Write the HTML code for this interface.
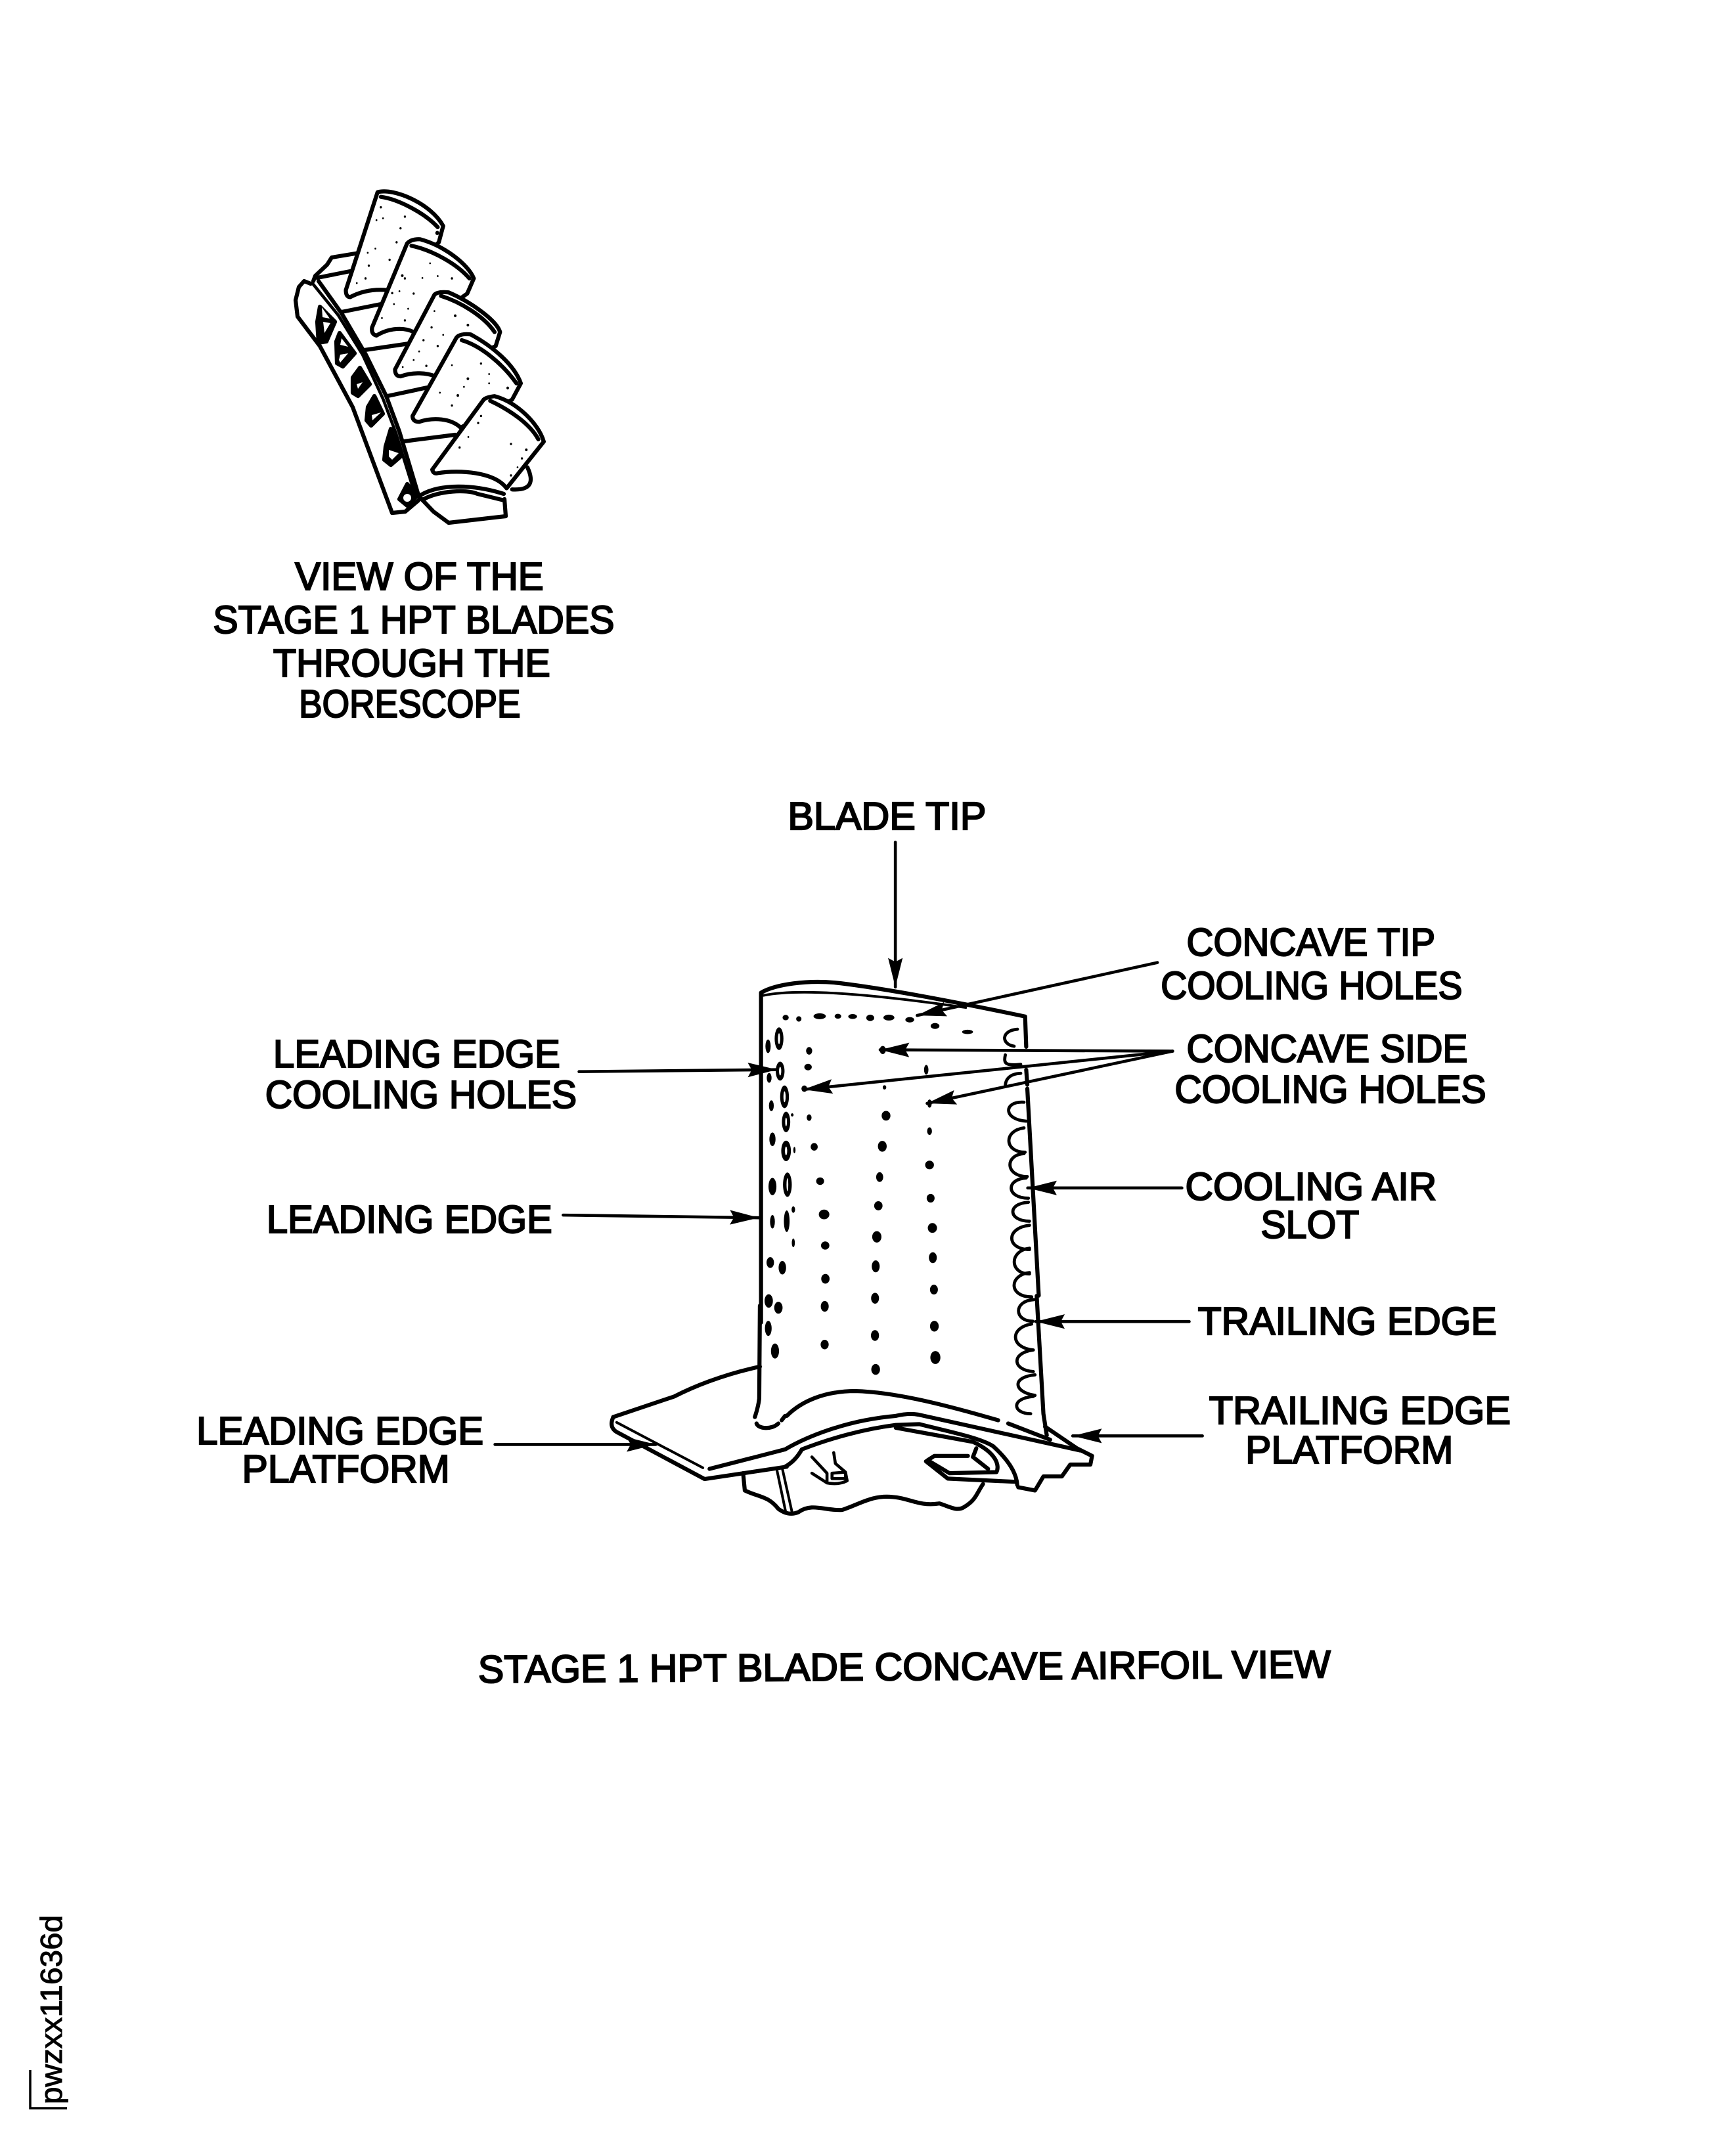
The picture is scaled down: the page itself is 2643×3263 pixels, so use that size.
<!DOCTYPE html>
<html><head><meta charset="utf-8"><title>Stage 1 HPT Blade</title>
<style>
html,body{margin:0;padding:0;background:#fff;}
svg{display:block;}
text{font-family:"Liberation Sans",sans-serif;font-size:59px;fill:#000;stroke:#000;stroke-width:2.2px;}
.l path,.l line{fill:none;stroke:#000;stroke-linecap:round;stroke-linejoin:round;vector-effect:non-scaling-stroke;}
.b path{stroke-width:6.2px;}
.m path{stroke-width:6.2px;}
.w path{fill:#fff;}
.a line{stroke:#000;stroke-width:4.6px;}
</style></head><body>
<svg width="2643" height="3263" viewBox="0 0 2643 3263" xmlns="http://www.w3.org/2000/svg">
<defs><marker id="h" markerUnits="userSpaceOnUse" markerWidth="46" markerHeight="24" refX="44" refY="12" orient="auto"><path d="M0,1 L44,12 L0,23 L6,12 Z" fill="#000"/></marker></defs>
<rect width="2643" height="3263" fill="#fff"/>

<!-- small view: band and root in real coordinates -->
<g class="l b">
<path d="M547,385 L505,392 L498,403 L480,420 L477,428"/>
<path d="M538,412 L483,423"/>
<path d="M473,432 L463,428 L455,437 L450,457 L453,482 L487,527 L537,620 L597,781 L617,779 L637,762"/>
<path d="M485,428 L520,477 L557,540 L588,603 L608,657 L638,757"/>
<path d="M477,433 L515,480 L552,540 L583,607 L603,660 L633,757" style="stroke-width:4.6px"/>
<path d="M520,475 L580,463 M555,533 L623,523 M590,603 L660,588 M615,672 L693,662"/>
<g>
<path d="M487,467 L510,490 L497,520 L485,522 L483,490Z" style="fill:#000"/><path d="M492,490 L503,492 L494,507 Z" style="fill:#fff;stroke-width:0"/><path d="M490,468 L502,485 L491,483 Z" style="fill:#fff;stroke-width:0"/>
<path d="M517,507 L540,538 L522,558 L513,553 L512,520 Z" style="fill:#000"/><path d="M518,540 L530,538 L518,552 L516,548Z" style="fill:#fff;stroke-width:0"/><path d="M520,515 L530,528 L518,525Z" style="fill:#fff;stroke-width:0"/>
<path d="M548,560 L563,585 L545,603 L537,598 L537,575Z" style="fill:#000"/><path d="M543,585 L552,582 L545,592 Z" style="fill:#fff;stroke-width:0"/>
<path d="M570,603 L583,630 L565,648 L558,640 L560,620Z" style="fill:#000"/><path d="M566,632 L580,628 L567,640Z" style="fill:#fff;stroke-width:0"/>
<path d="M595,653 L610,695 L595,708 L585,700 L587,680 Z" style="fill:#000"/><path d="M592,685 L607,690 L597,700 L592,695Z" style="fill:#fff;stroke-width:0"/>
<path d="M620,737 L635,755 L620,770 L608,760Z" style="fill:#000"/><circle cx="620" cy="758" r="6" fill="#fff"/>
</g>
</g>

<g class="l b w" transform="translate(400,250) scale(.333,.355)">
<path d="M525,120 C600,100 770,170 825,265 L805,335 L570,540 C510,535 450,545 400,570 Q380,570 380,540 Z"/>
<path d="M540,140 C620,150 740,210 800,270" style="fill:none"/>
<path d="M660,340 Q680,320 720,322 C830,350 940,430 965,490 L935,555 L690,720 C650,700 580,700 520,735 Q495,730 500,700 Z"/>
<path d="M680,350 C780,370 890,430 945,490" style="fill:none"/>
<path d="M785,560 Q800,545 850,550 C950,590 1070,670 1085,720 L1065,780 L790,910 C750,895 690,890 630,910 Q605,910 605,880 Z"/>
<path d="M815,565 C900,590 1010,650 1060,720" style="fill:none"/>
<path d="M885,745 Q900,725 950,730 C1050,780 1150,860 1180,940 L1140,1010 L905,1130 C860,1090 780,1085 715,1105 Q685,1105 685,1080 Z"/>
<path d="M910,755 C1000,780 1100,860 1160,940" style="fill:none"/>
<path d="M1140,1395 C1230,1400 1240,1360 1210,1300" style="fill:none"/>
<path d="M1010,1010 Q1020,1000 1060,995 C1160,1020 1260,1110 1285,1190 L1115,1390 C1060,1320 900,1310 800,1325 Q780,1330 775,1310 Z"/>
<path d="M1040,1015 C1120,1050 1220,1110 1260,1180" style="fill:none"/>
<g fill="#000"><circle cx="540" cy="185" r="5"/><circle cx="520" cy="240" r="4"/><circle cx="550" cy="232" r="4"/><circle cx="650" cy="225" r="5"/><circle cx="630" cy="275" r="5"/><circle cx="612" cy="335" r="5"/><circle cx="515" cy="362" r="4"/><circle cx="480" cy="380" r="4"/><circle cx="580" cy="410" r="5"/><circle cx="485" cy="435" r="5"/><circle cx="470" cy="490" r="5"/><circle cx="430" cy="510" r="4"/><circle cx="798" cy="295" r="9"/>
<circle cx="765" cy="425" r="4"/><circle cx="638" cy="478" r="6"/><circle cx="650" cy="490" r="5"/><circle cx="730" cy="488" r="4"/><circle cx="800" cy="480" r="4"/><circle cx="865" cy="490" r="5"/><circle cx="592" cy="553" r="5"/><circle cx="690" cy="555" r="5"/><circle cx="625" cy="545" r="4"/><circle cx="600" cy="600" r="4"/><circle cx="665" cy="620" r="4"/><circle cx="650" cy="670" r="5"/><circle cx="545" cy="660" r="4"/>
<circle cx="785" cy="630" r="4"/><circle cx="880" cy="650" r="6"/><circle cx="938" cy="690" r="6"/><circle cx="772" cy="700" r="5"/><circle cx="825" cy="732" r="4"/><circle cx="735" cy="755" r="5"/><circle cx="800" cy="780" r="5"/><circle cx="715" cy="803" r="4"/><circle cx="690" cy="840" r="4"/><circle cx="748" cy="865" r="5"/><circle cx="640" cy="870" r="4"/>
<circle cx="998" cy="855" r="5"/><circle cx="865" cy="862" r="4"/><circle cx="938" cy="920" r="6"/><circle cx="1035" cy="900" r="4"/><circle cx="1120" cy="960" r="6"/><circle cx="920" cy="955" r="4"/><circle cx="1035" cy="940" r="4"/><circle cx="892" cy="992" r="6"/><circle cx="865" cy="1035" r="5"/><circle cx="810" cy="980" r="4"/>
<circle cx="998" cy="1080" r="5"/><circle cx="985" cy="1110" r="5"/><circle cx="940" cy="1170" r="4"/><circle cx="900" cy="1215" r="5"/><circle cx="1135" cy="1200" r="5"/><circle cx="1205" cy="1225" r="6"/><circle cx="1185" cy="1262" r="5"/><circle cx="1165" cy="1300" r="4"/><circle cx="1135" cy="1335" r="5"/></g>
</g>
<g class="l b">
<path d="M640,758 L660,779 L683,796 L770,786 L768,760"/>
<path d="M642,753 C670,737 720,737 767,752"/>
<path d="M645,760 C670,747 710,745 727,752 L768,762"/>
</g>

<g transform="scale(1.0075,1.0066)">
<!-- platform and root -->
<g class="l m" transform="translate(872,1975) scale(.507,.327)">
<path d="M545,282 C430,320 340,380 290,420 L108,515"/>
<path d="M108,515 C95,560 110,580 125,590 L380,802 L625,745"/>
<path d="M118,540 L375,750" style="stroke-width:4px"/>
<path d="M395,755 C480,720 560,690 620,665 C680,610 800,530 950,510 Q990,495 1020,505 L1500,670"/>
<path d="M620,745 Q650,720 670,665 C760,610 860,570 950,552 L1020,548 C1100,580 1200,610 1240,650 C1290,720 1310,780 1312,830"/>
<path d="M950,565 L1180,630 C1250,680 1260,740 1250,770 L1110,775 L1045,715 L1065,695 L1165,695"/>
<path d="M1040,720 L1105,800 L1310,815"/>
<path d="M1190,660 L1180,700 L1225,755"/>
<path d="M1395,560 L1490,660 L1535,695 L1530,735 L1470,735 L1445,790 L1390,790 L1365,855 L1315,840"/>
<path d="M495,775 L500,855 C540,885 570,880 600,940 Q630,975 660,955 C700,910 740,950 790,945 C840,920 880,875 940,885 C990,890 1020,930 1080,915 C1110,930 1130,950 1150,935 C1190,900 1190,870 1210,825"/>
<path d="M595,755 L622,955 M612,755 L640,950" style="stroke-width:4px"/>
<path d="M700,700 L745,775 L745,820 Q780,830 805,810 L800,770 L770,730 L765,680 M700,775 L745,820 M760,775 L800,770 L800,800 L760,800 Z" style="stroke-width:4.6px"/>
<path d="M625,510 C670,440 740,395 830,395 C950,400 1100,460 1255,530 M1285,545 L1410,620 M535,545 C540,570 580,575 600,545 M610,530 L620,510"/>
<path d="M545,0 L543,430 C540,470 535,490 530,515 M1370,-45 L1390,500 L1400,600"/>
<path d="M1355,85 C1290,100 1290,195 1360,205 M1360,205 C1290,220 1300,300 1360,305 M1365,320 C1295,330 1300,400 1365,415 M1360,420 C1290,430 1300,500 1352,500" style="stroke-width:4.8px"/>
<g fill="#000"><ellipse cx="570" cy="105" rx="10" ry="35"/><ellipse cx="590" cy="210" rx="12" ry="35"/><ellipse cx="738" cy="180" rx="12" ry="22"/><ellipse cx="890" cy="295" rx="13" ry="25"/><ellipse cx="888" cy="138" rx="12" ry="25"/><ellipse cx="1065" cy="95" rx="13" ry="25"/><ellipse cx="1068" cy="240" rx="15" ry="30"/></g>
</g>

<!-- blade upper -->
<g class="l m" transform="translate(1071,1428) scale(.332,.409)">
<path d="M238,1400 L238,180 C300,150 450,130 600,145 C800,165 1100,210 1440,268 L1445,380 M1445,465 L1450,520 M1450,535 L1502,1300"/>
<path d="M250,190 C400,165 700,180 1170,235" style="stroke-width:3.8px"/>
<g>
<path d="M1405,315 C1330,320 1330,370 1390,378 M1420,478 C1370,480 1350,500 1350,525 M1350,410 C1340,445 1355,450 1420,445 M1435,585 C1340,580 1340,650 1445,655 M1435,680 C1340,690 1345,770 1440,770 M1435,775 C1345,780 1350,860 1450,860 M1445,865 C1350,870 1355,940 1455,940 M1455,955 C1355,960 1365,1025 1460,1025 M1460,1040 C1350,1050 1355,1130 1460,1130 M1460,1125 C1365,1135 1370,1220 1460,1220 M1460,1215 C1365,1225 1365,1305 1470,1305 M1480,1315 C1385,1320 1390,1395 1475,1395" style="stroke-width:4.8px"/>
</g>
<g fill="#000">
<ellipse cx="350" cy="272" rx="14" ry="10"/><ellipse cx="410" cy="277" rx="12" ry="10"/><ellipse cx="505" cy="267" rx="28" ry="11"/><ellipse cx="588" cy="267" rx="15" ry="9"/><ellipse cx="655" cy="268" rx="20" ry="9"/><ellipse cx="735" cy="273" rx="18" ry="12"/><ellipse cx="820" cy="272" rx="25" ry="11"/><ellipse cx="915" cy="280" rx="20" ry="10"/><ellipse cx="1030" cy="303" rx="20" ry="11"/><ellipse cx="1178" cy="325" rx="25" ry="8"/>
<ellipse cx="320" cy="350" rx="20" ry="42"/><ellipse cx="270" cy="378" rx="12" ry="25"/><ellipse cx="325" cy="470" rx="20" ry="35"/><ellipse cx="275" cy="495" rx="11" ry="18"/><ellipse cx="345" cy="565" rx="20" ry="42"/><ellipse cx="285" cy="598" rx="11" ry="20"/><ellipse cx="352" cy="658" rx="19" ry="38"/><ellipse cx="290" cy="722" rx="14" ry="25"/><ellipse cx="352" cy="765" rx="22" ry="38"/><ellipse cx="290" cy="897" rx="18" ry="32"/><ellipse cx="358" cy="890" rx="20" ry="45"/><ellipse cx="290" cy="1027" rx="11" ry="25"/><ellipse cx="355" cy="1025" rx="13" ry="40"/><ellipse cx="385" cy="982" rx="8" ry="12"/><ellipse cx="385" cy="1105" rx="7" ry="16"/><ellipse cx="280" cy="1178" rx="17" ry="20"/><ellipse cx="335" cy="1197" rx="17" ry="25"/><ellipse cx="273" cy="1320" rx="19" ry="25"/><ellipse cx="317" cy="1345" rx="19" ry="22"/><ellipse cx="380" cy="632" rx="6" ry="6"/><ellipse cx="390" cy="762" rx="5" ry="12"/>
<ellipse cx="457" cy="395" rx="14" ry="14"/><ellipse cx="452" cy="455" rx="17" ry="12"/><ellipse cx="435" cy="535" rx="13" ry="12"/><ellipse cx="457" cy="642" rx="11" ry="12"/><ellipse cx="480" cy="750" rx="16" ry="14"/><ellipse cx="507" cy="877" rx="18" ry="14"/><ellipse cx="525" cy="1000" rx="24" ry="18"/><ellipse cx="530" cy="1115" rx="19" ry="15"/><ellipse cx="531" cy="1238" rx="19" ry="18"/><ellipse cx="528" cy="1340" rx="18" ry="20"/>
<ellipse cx="792" cy="392" rx="14" ry="15"/><ellipse cx="990" cy="465" rx="10" ry="18"/><ellipse cx="800" cy="530" rx="8" ry="8"/><ellipse cx="807" cy="635" rx="20" ry="18"/><ellipse cx="790" cy="748" rx="20" ry="20"/><ellipse cx="778" cy="862" rx="16" ry="18"/><ellipse cx="772" cy="968" rx="19" ry="17"/><ellipse cx="765" cy="1083" rx="21" ry="21"/><ellipse cx="760" cy="1192" rx="18" ry="22"/><ellipse cx="757" cy="1310" rx="18" ry="20"/>
<ellipse cx="1005" cy="590" rx="10" ry="15"/><ellipse cx="1005" cy="692" rx="11" ry="14"/><ellipse cx="1005" cy="817" rx="20" ry="16"/><ellipse cx="1010" cy="940" rx="18" ry="16"/><ellipse cx="1018" cy="1050" rx="21" ry="18"/><ellipse cx="1020" cy="1160" rx="18" ry="20"/><ellipse cx="1025" cy="1278" rx="18" ry="18"/>
</g>
<g fill="#fff"><ellipse cx="320" cy="350" rx="5" ry="20"/><ellipse cx="325" cy="470" rx="5" ry="16"/><ellipse cx="345" cy="565" rx="5" ry="20"/><ellipse cx="352" cy="658" rx="4" ry="16"/><ellipse cx="352" cy="765" rx="5" ry="16"/><ellipse cx="358" cy="890" rx="4" ry="24"/></g>
</g>

<!-- arrows -->
<g class="l a">
<line x1="1353" y1="1274" x2="1353" y2="1493" marker-end="url(#h)"/>
<line x1="1749" y1="1456" x2="1386" y2="1536" marker-end="url(#h)"/>
<line x1="875" y1="1621" x2="1174" y2="1618" marker-end="url(#h)"/>
<line x1="851" y1="1838" x2="1147" y2="1842" marker-end="url(#h)"/>
<line x1="1772" y1="1590" x2="1330" y2="1588" marker-end="url(#h)"/>
<line x1="1772" y1="1590" x2="1214" y2="1648" marker-end="url(#h)"/>
<line x1="1772" y1="1590" x2="1401" y2="1669" marker-end="url(#h)"/>
<line x1="1786" y1="1797" x2="1553" y2="1797" marker-end="url(#h)"/>
<line x1="1797" y1="1999" x2="1565" y2="1999" marker-end="url(#h)"/>
<line x1="1817" y1="2172" x2="1621" y2="2172" marker-end="url(#h)"/>
<line x1="748" y1="2185" x2="991" y2="2185" marker-end="url(#h)"/>
</g>
</g>

<!-- labels -->
<g transform="scale(1.007,1)">
<text x="446" y="898" textLength="376" lengthAdjust="spacingAndGlyphs">VIEW OF THE</text>
<text x="322" y="964" textLength="607" lengthAdjust="spacingAndGlyphs">STAGE 1 HPT BLADES</text>
<text x="413" y="1030" textLength="419" lengthAdjust="spacingAndGlyphs">THROUGH THE</text>
<text x="452" y="1092" textLength="335" lengthAdjust="spacingAndGlyphs">BORESCOPE</text>
<text x="1191" y="1263" textLength="300" lengthAdjust="spacingAndGlyphs">BLADE TIP</text>
<text x="1794" y="1455" textLength="376" lengthAdjust="spacingAndGlyphs">CONCAVE TIP</text>
<text x="1755" y="1521" textLength="456" lengthAdjust="spacingAndGlyphs">COOLING HOLES</text>
<text x="413" y="1625" textLength="434" lengthAdjust="spacingAndGlyphs">LEADING EDGE</text>
<text x="401" y="1687" textLength="471" lengthAdjust="spacingAndGlyphs">COOLING HOLES</text>
<text x="1794" y="1617" textLength="425" lengthAdjust="spacingAndGlyphs">CONCAVE SIDE</text>
<text x="1776" y="1679" textLength="471" lengthAdjust="spacingAndGlyphs">COOLING HOLES</text>
<text x="403" y="1877" textLength="432" lengthAdjust="spacingAndGlyphs">LEADING EDGE</text>
<text x="1792" y="1827" textLength="380" lengthAdjust="spacingAndGlyphs">COOLING AIR</text>
<text x="1906" y="1885" textLength="149" lengthAdjust="spacingAndGlyphs">SLOT</text>
<text x="1811" y="2032" textLength="452" lengthAdjust="spacingAndGlyphs">TRAILING EDGE</text>
<text x="1828" y="2168" textLength="456" lengthAdjust="spacingAndGlyphs">TRAILING EDGE</text>
<text x="1883" y="2228" textLength="314" lengthAdjust="spacingAndGlyphs">PLATFORM</text>
<text x="297" y="2199" textLength="434" lengthAdjust="spacingAndGlyphs">LEADING EDGE</text>
<text x="366" y="2257" textLength="314" lengthAdjust="spacingAndGlyphs">PLATFORM</text>
<text x="723" y="2562" textLength="1289" lengthAdjust="spacingAndGlyphs" transform="rotate(-0.35 723 2562)">STAGE 1 HPT BLADE CONCAVE AIRFOIL VIEW</text>
</g>

<!-- id -->
<text transform="translate(94,3204) rotate(-90)" textLength="288" lengthAdjust="spacingAndGlyphs" style="font-size:46px;stroke-width:1px">pwzxx11636d</text>
<path d="M46,3152 L46,3210 L102,3210" fill="none" stroke="#000" stroke-width="3.5"/>
</svg>
</body></html>
